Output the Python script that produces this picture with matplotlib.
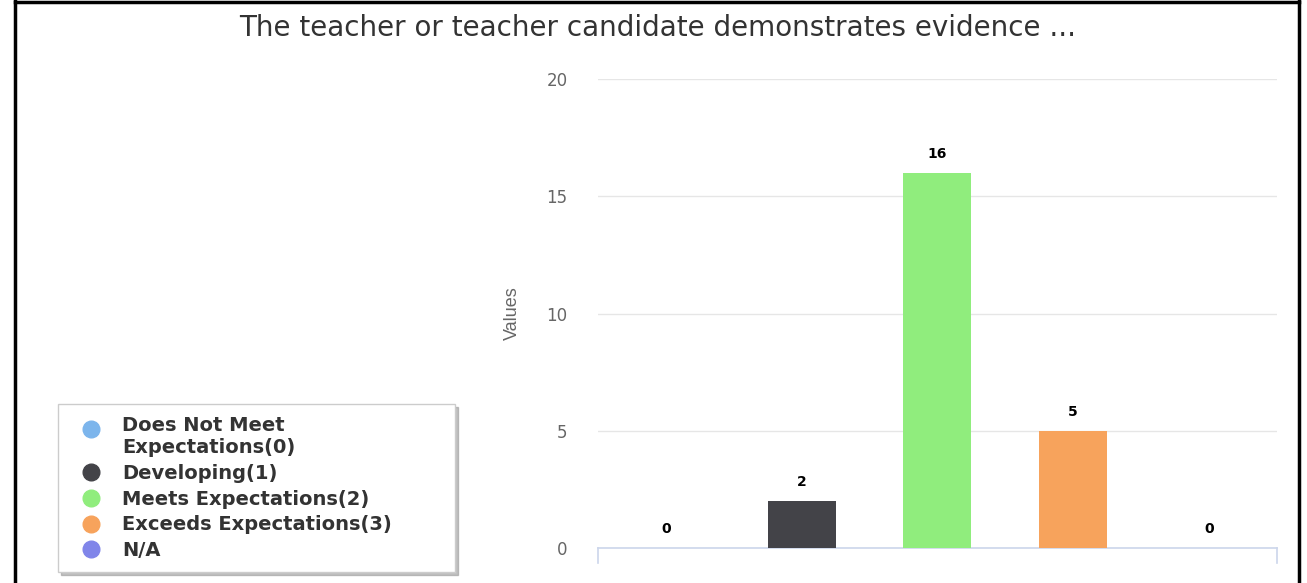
import matplotlib
matplotlib.use("Agg")
import matplotlib.pyplot as plt
from matplotlib.lines import Line2D
from matplotlib.legend_handler import HandlerLine2D

plt.rcParams['font.family'] = ['DejaVu Sans']

# data
categories = ["Does Not Meet\nExpectations(0)", "Developing(1)", "Meets Expectations(2)",
              "Exceeds Expectations(3)", "N/A"]
values = [0, 2, 16, 5, 0]
colors = ["#7cb5ec", "#434348", "#90ed7d", "#f7a35c", "#8085e9"]
yticks = [0, 5, 10, 15, 20]


class RaisedHandler(HandlerLine2D):
    # puts the marker next to the first line of a two-line label
    def __init__(self, shift, **kw):
        super().__init__(**kw)
        self.shift = shift

    def create_artists(self, legend, orig_handle, xdescent, ydescent,
                       width, height, fontsize, trans):
        return super().create_artists(legend, orig_handle, xdescent,
                                      ydescent - 2 * self.shift, width, height,
                                      fontsize, trans)


fig = plt.figure(figsize=(13.07, 5.83), dpi=100)
ax = fig.add_axes([0.4575, 0.06, 0.5195, 0.8045])

x = list(range(len(values)))
ax.bar(x, values, width=0.5, color=colors, zorder=3)
for xi, v in zip(x, values):
    ax.text(xi, v + 0.5, str(v), ha='center', va='bottom', fontsize=10,
            fontweight='bold', color='black')

ax.set_xlim(-0.5, len(values) - 0.5)
ax.set_ylim(0, 20)
ax.set_yticks(yticks)
ax.set_xticks([])
ax.tick_params(axis='y', length=0, pad=22, labelsize=12, labelcolor='#666666')
ax.grid(axis='y', color='#e6e6e6', linewidth=1, zorder=0)
for s in ['top', 'right', 'left']:
    ax.spines[s].set_visible(False)
ax.spines['bottom'].set_color('#ccd6eb')
ax.spines['bottom'].set_linewidth(1.2)
ax.set_ylabel("Values", fontsize=13, color='#666666', labelpad=18,
              family='Liberation Sans')

# tick marks at the ends of the x axis
for xe in [-0.5, len(values) - 0.5]:
    ax.plot([xe, xe], [0, -0.65], color='#ccd6eb', lw=1.2, clip_on=False)

fig.suptitle("The teacher or teacher candidate demonstrates evidence ...",
             x=0.503, y=0.952, va='center', fontsize=20, color='#333333')

handles = [Line2D([0], [0], marker='o', linestyle='none', markersize=12,
                  markerfacecolor=c, markeredgecolor=c) for c in colors]
leg = fig.legend(handles, categories, loc='lower left', mode='expand',
                 bbox_to_anchor=(0.0444, 0.019, 0.3037, 0.29), frameon=True,
                 fancybox=False, shadow={'color': '#999999', 'alpha': 0.6},
                 prop={'weight': 'bold', 'size': 14},
                 labelspacing=0.35, handletextpad=0.5, borderpad=0.6,
                 handlelength=2.2, borderaxespad=0.0,
                 handler_map={handles[0]: RaisedHandler(6)})
for t in leg.get_texts():
    t.set_color('#333333')
leg.get_frame().set_edgecolor('#cccccc')

# black frame around the screenshot
fig.add_artist(Line2D([0.0115, 0.0115], [0, 1], color='black', lw=2.5,
                      transform=fig.transFigure))
fig.add_artist(Line2D([0.9935, 0.9935], [0, 1], color='black', lw=2.5,
                      transform=fig.transFigure))
fig.add_artist(Line2D([0.0115, 0.9935], [0.997, 0.997], color='black', lw=2.5,
                      transform=fig.transFigure))

fig.savefig("out.png", dpi=100)
